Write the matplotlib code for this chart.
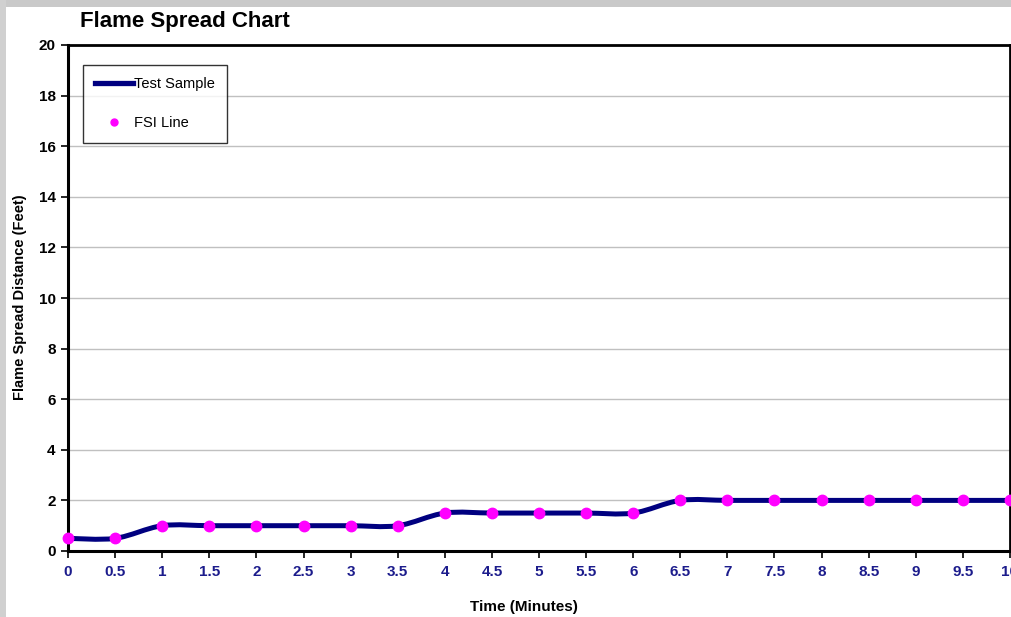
import numpy as np
import matplotlib
matplotlib.use("Agg")
import matplotlib.pyplot as plt
from matplotlib.path import Path
from matplotlib.patches import PathPatch, Rectangle
from matplotlib.lines import Line2D

plt.rcParams['font.family'] = ['Liberation Sans', 'DejaVu Sans']

time_min = [0, 0.5, 1, 1.5, 2, 2.5, 3, 3.5, 4, 4.5, 5, 5.5, 6, 6.5, 7, 7.5, 8, 8.5, 9, 9.5, 10]
test_sample = [0.5, 0.5, 1, 1, 1, 1, 1, 1, 1.5, 1.5, 1.5, 1.5, 1.5, 2, 2, 2, 2, 2, 2, 2, 2]
fsi_line = [0.5, 0.5, 1, 1, 1, 1, 1, 1, 1.5, 1.5, 1.5, 1.5, 1.5, 2, 2, 2, 2, 2, 2, 2, 2]
x_ticks = [0, 0.5, 1, 1.5, 2, 2.5, 3, 3.5, 4, 4.5, 5, 5.5, 6, 6.5, 7, 7.5, 8, 8.5, 9, 9.5, 10]
y_ticks = [0, 2, 4, 6, 8, 10, 12, 14, 16, 18, 20]

NAVY = '#000080'
MAGENTA = '#FF00FF'
TICKBLUE = '#1C1C8C'

fig = plt.figure(figsize=(10.12, 6.17), dpi=100)
fig.patch.set_facecolor('white')
# document background strips
fig.patches.append(Rectangle((0, 1 - 7/617), 1, 7/617, transform=fig.transFigure,
                             facecolor='#c9c9c9', edgecolor='none', zorder=0))
fig.patches.append(Rectangle((0, 0), 6/1012, 1, transform=fig.transFigure,
                             facecolor='#d0d0d0', edgecolor='none', zorder=0))

ax = fig.add_axes([68/1012, 1 - 551/617, (1010 - 68)/1012, (551 - 45)/617])
ax.set_xlim(0, 10)
ax.set_ylim(0, 20)

# Smoothed line (Catmull-Rom style Bezier, like Excel's smoothed line)
pts = np.column_stack([time_min, test_sample]).astype(float)
n = len(pts)
verts = [tuple(pts[0])]
codes = [Path.MOVETO]
for i in range(n - 1):
    p0 = pts[i - 1] if i > 0 else pts[i]
    p1 = pts[i]
    p2 = pts[i + 1]
    p3 = pts[i + 2] if i + 2 < n else pts[i + 1]
    c1 = p1 + (p2 - p0) / 6.0
    c2 = p2 - (p3 - p1) / 6.0
    verts += [tuple(c1), tuple(c2), tuple(p2)]
    codes += [Path.CURVE4] * 3
path = Path(verts, codes)
ax.add_patch(PathPatch(path, facecolor='none', edgecolor=NAVY, lw=3.6,
                       capstyle='round', joinstyle='round', zorder=3, clip_on=False))

ax.plot(time_min, fsi_line, linestyle='none', marker='o', ms=7.5, color=MAGENTA,
        mec=MAGENTA, zorder=4, clip_on=False)

ax.set_yticks(y_ticks)
ax.set_xticks(x_ticks)
ax.set_xticklabels([('%g' % v) for v in x_ticks])
ax.grid(axis='y', color='#c0c0c0', lw=1.0)
ax.set_axisbelow(True)

for lab in ax.get_yticklabels():
    lab.set_fontweight('bold')
    lab.set_fontsize(11)
    lab.set_color('black')
for lab in ax.get_xticklabels():
    lab.set_fontweight('bold')
    lab.set_fontsize(11)
    lab.set_color(TICKBLUE)

ax.tick_params(axis='both', direction='out', length=5, width=1.2, color='black')
ax.tick_params(axis='y', pad=4)
ax.tick_params(axis='x', pad=5)

for side in ['left', 'bottom']:
    ax.spines[side].set_linewidth(2.2)
for side in ['top', 'right']:
    ax.spines[side].set_linewidth(2.0)
for s in ax.spines.values():
    s.set_color('black')

ax.set_xlabel('Time (Minutes)', fontsize=11, fontweight='bold')
ax.set_ylabel('Flame Spread Distance (Feet)', fontsize=10.5, fontweight='bold')
ax.xaxis.set_label_coords((524 - 68)/942, -(607 - 551)/506)
ax.yaxis.set_label_coords(-(68 - 20)/942, (551 - 297)/506)
ax.xaxis.label.set_va('center')
ax.yaxis.label.set_va('center')

fig.text(80/1012, 1 - 22/617, 'Flame Spread Chart', fontsize=16, fontweight='bold',
         ha='left', va='center')

handles = [Line2D([0], [0], color=NAVY, lw=3.8),
           Line2D([0], [0], linestyle='none', marker='o', ms=5, color=MAGENTA)]
leg = ax.legend(handles, ['Test Sample', 'FSI Line'], loc='upper left',
                bbox_to_anchor=(15/942, 1 - 20/506), fontsize=10.5, frameon=True,
                fancybox=False, edgecolor='black', labelspacing=1.7,
                handlelength=2.6, handletextpad=0.05, borderpad=0.85, borderaxespad=0)
leg.get_frame().set_linewidth(1.0)

fig.savefig('out.png', dpi=100, facecolor=fig.get_facecolor())
